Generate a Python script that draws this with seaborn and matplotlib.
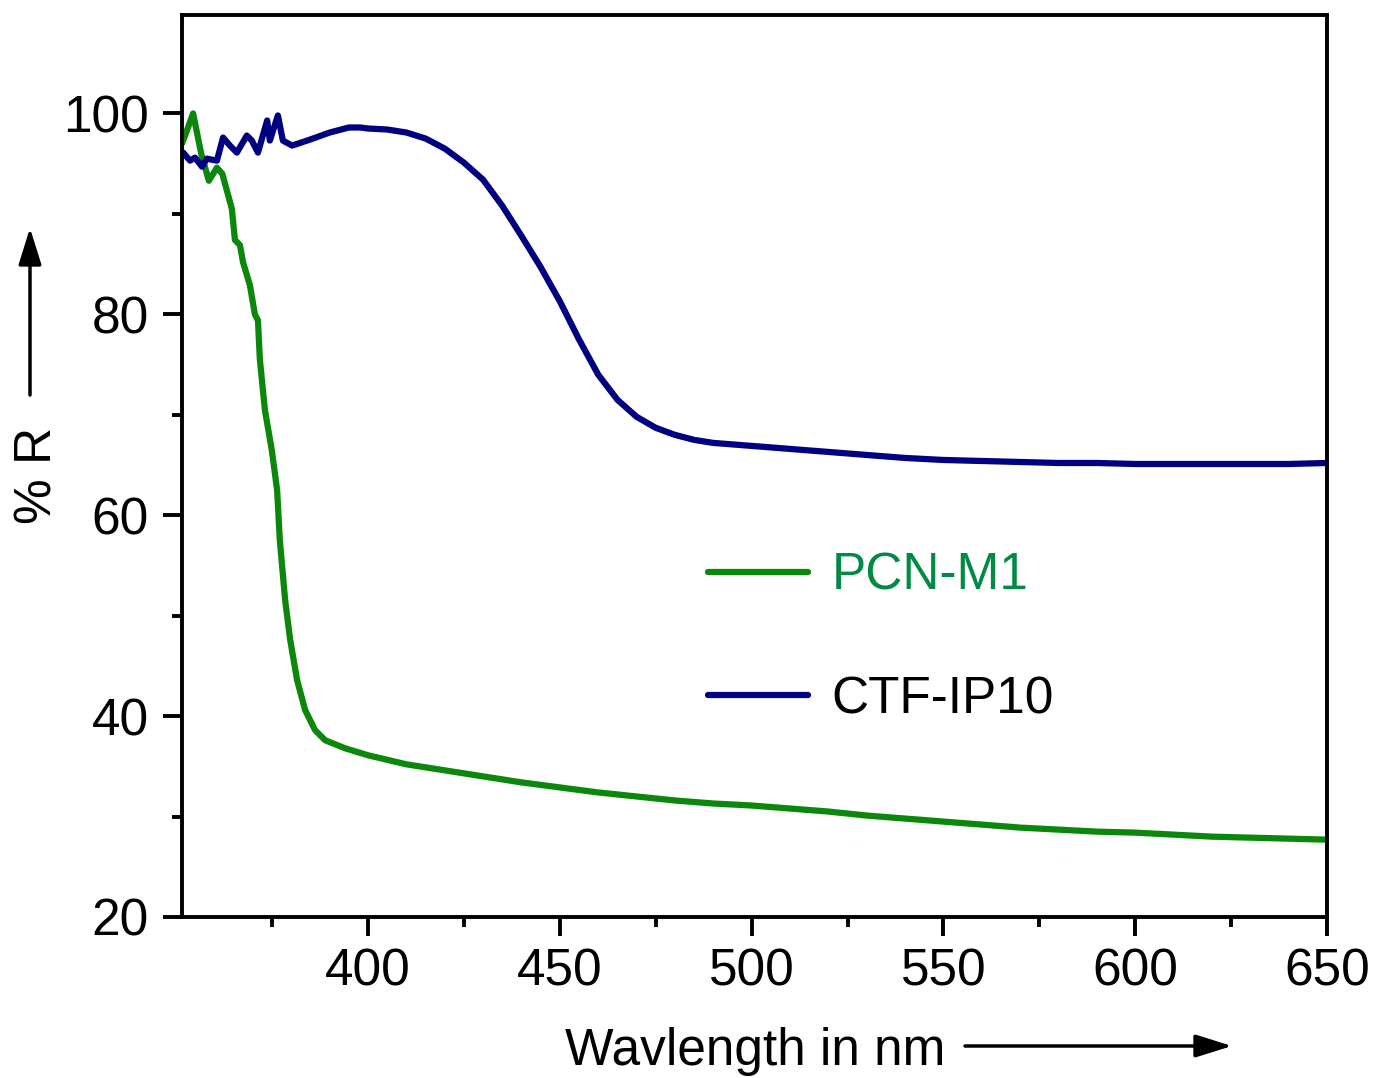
import matplotlib
matplotlib.use("Agg")
import matplotlib.pyplot as plt
import seaborn as sns
import pandas as pd
import numpy as np

# ---- data ----
wl_pcn = [351.5, 352.5, 354.4, 356.5, 358.5, 360.6, 362.0, 364.5, 365.3, 366.6,
          367.4, 369.2, 370.5, 371.3, 371.8, 373.1, 374.9, 376.3, 377.0, 378.4,
          379.7, 381.5, 383.6, 386.2, 388.8, 394, 400, 410, 420, 430, 440, 450,
          460, 470, 480, 490, 500, 510, 520, 530, 540, 550, 560, 570, 580, 590,
          600, 610, 620, 630, 640, 650]
r_pcn = [97.0, 98.0, 100.0, 96.0, 93.3, 94.6, 94.0, 90.5, 87.4, 86.9,
         85.2, 82.9, 80.0, 79.4, 75.5, 70.5, 66.5, 62.5, 57.5, 51.5,
         47.6, 43.6, 40.6, 38.6, 37.6, 36.8, 36.1, 35.2, 34.6, 34.0, 33.4, 32.9,
         32.4, 32.0, 31.6, 31.3, 31.1, 30.8, 30.5, 30.1, 29.8, 29.5, 29.2, 28.9,
         28.7, 28.5, 28.4, 28.2, 28.0, 27.9, 27.8, 27.7]

wl_ctf = [351.8, 353.6, 354.9, 356.7, 358.0, 360.6, 362.2, 364.0, 365.8, 368.4,
          369.7, 371.3, 373.7, 374.4, 376.5, 377.8, 380.2, 384.9, 390, 395, 398,
          400, 405, 410, 415, 420, 425, 430, 435, 440, 445, 450, 455, 460, 465,
          470, 475, 480, 485, 490, 500, 510, 520, 530, 540, 550, 560, 570, 580,
          590, 600, 610, 620, 630, 640, 650]
r_ctf = [96.1, 95.3, 95.6, 94.7, 95.5, 95.3, 97.6, 96.8, 96.1, 97.8,
         97.3, 96.1, 99.3, 97.3, 99.8, 97.3, 96.8, 97.4, 98.1, 98.6, 98.6,
         98.5, 98.4, 98.1, 97.5, 96.5, 95.1, 93.4, 90.8, 87.8, 84.7, 81.3, 77.5,
         74.0, 71.5, 69.8, 68.7, 68.0, 67.5, 67.2, 66.9, 66.6, 66.3, 66.0, 65.7,
         65.5, 65.4, 65.3, 65.2, 65.2, 65.1, 65.1, 65.1, 65.1, 65.1, 65.2]

labels = ["PCN-M1", "CTF-IP10"]
colors = ["#0b870b", "#000080"]
label_colors = ["#008a45", "black"]

xticks = [400, 450, 500, 550, 600, 650]
yticks = [20, 40, 60, 80, 100]

df = pd.concat([
    pd.DataFrame({"wl": wl_pcn, "R": r_pcn, "sample": labels[0]}),
    pd.DataFrame({"wl": wl_ctf, "R": r_ctf, "sample": labels[1]}),
], ignore_index=True)

sns.set_style("ticks")
plt.rcParams["font.family"] = ["Liberation Sans", "DejaVu Sans"]
plt.rcParams["text.color"] = "black"
plt.rcParams["axes.labelcolor"] = "black"
plt.rcParams["xtick.color"] = "black"
plt.rcParams["ytick.color"] = "black"
fs = 37

fig = plt.figure(figsize=(13.77, 10.78), dpi=100)
ax = fig.add_axes([182/1377, 1 - 917/1078, (1327-182)/1377, (917-15)/1078])

sns.lineplot(data=df, x="wl", y="R", hue="sample", palette=dict(zip(labels, colors)),
             lw=4.5, ax=ax, sort=False, estimator=None)

ax.set_xlim(351.5, 650)
ax.set_ylim(20, 109.8)
ax.set_xticks(xticks)
ax.set_yticks(yticks)
ax.set_xticks([375, 425, 475, 525, 575, 625], minor=True)
ax.set_yticks([30, 50, 70, 90], minor=True)
ax.tick_params(axis="both", which="major", direction="out", length=14, width=2.8,
               labelsize=fs, color="black", labelcolor="black")
ax.tick_params(axis="both", which="minor", direction="out", length=7, width=2.8,
               color="black")
ax.tick_params(axis="y", which="major", pad=10)
ax.tick_params(axis="x", which="major", pad=8)
ax.tick_params(top=False, right=False, which="both")
for s in ax.spines.values():
    s.set_linewidth(2.8)
    s.set_color("black")

ax.set_xlabel("Wavlength in nm", fontsize=fs, va="baseline", ha="center", color="black")
ax.xaxis.set_label_coords((755-182)/1145, (917-1065)/902)
ax.set_ylabel("% R", fontsize=fs, va="baseline", ha="center", color="black")
ax.yaxis.set_label_coords((52-182)/1145, (917-475)/902)

# axis arrows
fig.add_artist(matplotlib.patches.FancyArrowPatch(
    (965/1377, 1 - 1046/1078), (1232/1377, 1 - 1046/1078),
    transform=fig.transFigure, arrowstyle="-|>,head_length=1.6,head_width=0.5",
    mutation_scale=14, lw=2.5, color="black", shrinkA=0, shrinkB=0))
fig.add_artist(matplotlib.patches.FancyArrowPatch(
    (30/1377, 1 - 395/1078), (30/1377, 1 - 228/1078),
    transform=fig.transFigure, arrowstyle="-|>,head_length=1.6,head_width=0.5",
    mutation_scale=14, lw=2.5, color="black", shrinkA=0, shrinkB=0))

leg = ax.legend(loc="center left", bbox_to_anchor=((708-182)/1145, (917-638)/902),
                frameon=False, fontsize=fs, handlelength=1.95, handletextpad=0.45,
                labelspacing=1.45, borderpad=0, borderaxespad=0)
for t, c in zip(leg.get_texts(), label_colors):
    t.set_color(c)
for h in leg.get_lines():
    h.set_linewidth(4.5)

fig.savefig("out.png", dpi=100)
